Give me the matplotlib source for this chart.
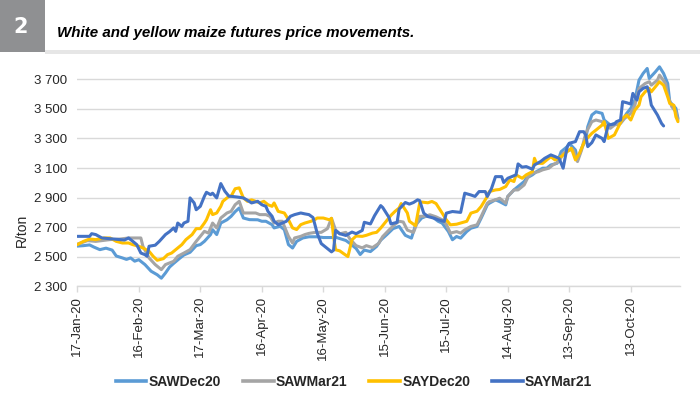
import matplotlib
matplotlib.use("Agg")
import matplotlib.pyplot as plt
import matplotlib.dates as mdates
from matplotlib.ticker import FuncFormatter
from matplotlib.patches import Rectangle
from matplotlib.lines import Line2D
import pandas as pd

plt.rcParams['font.family'] = ['Liberation Sans', 'DejaVu Sans']

# ---- data: (days after 17-Jan-2020, R/ton) ----
start_date = "2020-01-17"
saw_dec20 = [(0,2572),(3,2575),(6,2580),(8,2566),(11,2548),(14,2558),(17,2545),(19,2505),(22,2492),(24,2482),(26,2492),(28,2470),(30,2480),(33,2447),(36,2402),(39,2378),(41,2355),(43,2390),(45,2430),(47,2455),(50,2490),(52,2512),(55,2530),(58,2575),(60,2582),(62,2604),(65,2650),(66,2683),(68,2650),(70,2728),(73,2750),(75,2773),(77,2805),(79,2830),(81,2762),(84,2751),(88,2750),(90,2740),(92,2740),(95,2717),(96,2695),(99,2706),(101,2683),(103,2582),(105,2559),(107,2604),(110,2627),(113,2635),(117,2635),(120,2630),(124,2630),(126,2632),(131,2610),(133,2590),(136,2556),(138,2515),(140,2545),(143,2535),(146,2570),(148,2612),(151,2650),(154,2690),(157,2705),(160,2645),(163,2626),(165,2715),(168,2762),(170,2773),(173,2772),(176,2740),(178,2727),(181,2671),(183,2615),(185,2637),(187,2626),(190,2671),(192,2693),(195,2705),(197,2761),(200,2851),(201,2862),(204,2885),(206,2873),(209,2851),(210,2908),(213,2952),(215,2975),(218,3009),(219,3031),(222,3054),(224,3076),(227,3099),(229,3099),(231,3121),(234,3132),(236,3211),(239,3245),(240,3267),(243,3222),(244,3155),(246,3234),(248,3290),(249,3380),(251,3459),(253,3481),(256,3470),(257,3425),(260,3391),(262,3402),(264,3391),(266,3425),(268,3470),(270,3504),(272,3560),(274,3695),(276,3740),(278,3774),(279,3706),(282,3751),(284,3785),(286,3740),(288,3672),(289,3549),(292,3504),(293,3436)]
saw_mar21 = [(0,2585),(5,2609),(9,2604),(16,2616),(21,2620),(25,2627),(29,2627),(31,2627),(32,2571),(35,2492),(38,2447),(41,2413),(43,2447),(47,2469),(49,2503),(52,2525),(55,2548),(58,2604),(60,2638),(62,2672),(64,2660),(66,2728),(68,2695),(70,2762),(73,2796),(75,2807),(77,2852),(79,2875),(81,2796),(84,2796),(87,2796),(89,2785),(92,2785),(94,2773),(96,2728),(98,2740),(100,2740),(103,2638),(105,2593),(106,2627),(109,2638),(111,2650),(113,2658),(116,2665),(119,2665),(122,2690),(124,2760),(126,2680),(128,2655),(131,2665),(133,2620),(136,2575),(139,2560),(141,2575),(144,2562),(147,2590),(149,2637),(152,2680),(155,2720),(157,2740),(159,2735),(161,2680),(164,2665),(167,2773),(170,2775),(172,2784),(175,2770),(178,2750),(180,2720),(182,2660),(185,2670),(187,2660),(189,2682),(192,2705),(195,2716),(197,2772),(200,2862),(201,2873),(204,2885),(206,2896),(209,2862),(210,2908),(213,2952),(215,2952),(218,2986),(220,3043),(222,3065),(225,3076),(227,3088),(230,3099),(232,3121),(235,3144),(237,3200),(240,3222),(242,3222),(244,3144),(246,3222),(248,3335),(251,3414),(253,3425),(256,3414),(257,3391),(260,3369),(262,3391),(265,3402),(267,3436),(270,3470),(272,3526),(274,3639),(277,3672),(279,3684),(280,3661),(283,3695),(284,3729),(287,3672),(288,3594),(290,3515),(292,3481),(293,3425)]
say_dec20 = [(0,2582),(3,2604),(6,2620),(9,2616),(13,2627),(16,2627),(19,2604),(22,2593),(25,2593),(27,2582),(30,2571),(32,2559),(35,2537),(37,2503),(39,2476),(42,2487),(44,2514),(46,2525),(48,2548),(51,2582),(53,2616),(56,2650),(58,2690),(60,2690),(62,2728),(63,2750),(65,2818),(66,2785),(68,2796),(70,2841),(71,2875),(74,2909),(75,2909),(77,2960),(79,2966),(81,2898),(83,2875),(85,2885),(87,2875),(89,2864),(91,2875),(93,2852),(95,2841),(96,2864),(98,2807),(101,2796),(103,2751),(105,2695),(107,2684),(109,2717),(111,2728),(114,2740),(116,2752),(117,2762),(120,2762),(123,2750),(124,2760),(125,2637),(126,2547),(128,2540),(130,2520),(132,2501),(134,2615),(136,2640),(139,2638),(141,2645),(144,2660),(146,2665),(148,2694),(151,2745),(153,2780),(155,2807),(157,2830),(158,2860),(161,2796),(162,2740),(165,2710),(167,2862),(168,2870),(171,2865),(173,2874),(175,2860),(178,2795),(180,2750),(182,2716),(185,2720),(187,2728),(190,2740),(192,2795),(195,2808),(197,2840),(200,2908),(201,2941),(204,2952),(206,2955),(209,2975),(211,3020),(213,3009),(214,3054),(217,3031),(219,3054),(222,3076),(223,3166),(224,3132),(227,3132),(229,3155),(231,3177),(233,3155),(236,3177),(239,3211),(241,3234),(243,3155),(245,3200),(247,3267),(248,3290),(251,3335),(253,3357),(256,3391),(257,3414),(259,3301),(262,3324),(264,3380),(266,3436),(268,3459),(270,3425),(272,3492),(274,3526),(275,3582),(277,3616),(279,3639),(280,3616),(282,3650),(284,3684),(286,3660),(288,3582),(289,3537),(291,3525),(292,3447),(293,3414)]
say_mar21 = [(0,2638),(6,2638),(7,2656),(9,2650),(12,2627),(16,2622),(21,2616),(23,2613),(25,2627),(27,2605),(29,2582),(31,2525),(33,2514),(34,2503),(35,2571),(38,2578),(40,2604),(43,2650),(45,2670),(47,2695),(48,2672),(49,2728),(51,2705),(52,2728),(54,2740),(55,2898),(57,2864),(58,2818),(60,2841),(62,2909),(63,2936),(65,2920),(66,2930),(68,2898),(70,2995),(72,2943),(74,2909),(75,2909),(78,2904),(81,2898),(83,2882),(85,2864),(88,2875),(90,2852),(92,2841),(93,2807),(95,2774),(96,2740),(98,2717),(100,2728),(102,2740),(104,2774),(106,2785),(109,2796),(111,2790),(113,2785),(115,2765),(117,2660),(119,2589),(122,2555),(124,2533),(125,2544),(126,2678),(128,2656),(131,2644),(134,2667),(136,2656),(139,2678),(140,2733),(143,2722),(145,2778),(148,2846),(149,2833),(152,2767),(153,2722),(156,2733),(157,2822),(160,2867),(162,2856),(164,2867),(166,2885),(167,2880),(169,2795),(171,2772),(174,2761),(176,2750),(179,2739),(180,2795),(183,2806),(187,2800),(189,2930),(192,2918),(194,2908),(196,2941),(199,2941),(200,2908),(202,2960),(204,3042),(207,3042),(208,3002),(210,3031),(214,3054),(215,3128),(217,3106),(219,3110),(222,3092),(223,3121),(226,3144),(228,3166),(231,3189),(233,3178),(235,3166),(237,3099),(239,3245),(240,3268),(243,3279),(245,3346),(247,3346),(248,3324),(249,3245),(251,3272),(253,3324),(256,3301),(257,3279),(259,3391),(262,3398),(263,3414),(265,3425),(266,3549),(268,3542),(270,3533),(271,3605),(273,3560),(274,3616),(276,3639),(278,3650),(279,3605),(280,3526),(283,3459),(285,3402),(286,3385)]

series_names = ["SAWDec20", "SAWMar21", "SAYDec20", "SAYMar21"]
series_data = [saw_dec20, saw_mar21, say_dec20, say_mar21]
series_colors = ["#5B9BD5", "#A5A5A5", "#FFC000", "#4472C4"]

tick_dates = ["2020-01-17", "2020-02-16", "2020-03-17", "2020-04-16", "2020-05-16",
              "2020-06-15", "2020-07-15", "2020-08-14", "2020-09-13", "2020-10-13"]
y_ticks = [2300, 2500, 2700, 2900, 3100, 3300, 3500, 3700]
y_limits = (2300, 3800)
x_end_days = 294

title_text = "White and yellow maize futures price movements."
figure_number = "2"
y_label = "R/ton"

# ---- figure ----
W, H = 700, 399
fig = plt.figure(figsize=(W / 100, H / 100), dpi=100)
fig.patch.set_facecolor("white")

# header
fig.patches.append(Rectangle((0, 1 - 52 / H), 45 / W, 52 / H, transform=fig.transFigure,
                             facecolor="#8F9092", edgecolor="none", zorder=1))
fig.patches.append(Rectangle((45 / W, 1 - 54 / H), 1 - 45 / W, 4 / H, transform=fig.transFigure,
                             facecolor="#E6E6E6", edgecolor="none", zorder=1))
fig.text(21 / W, 1 - 27 / H, figure_number, color="white", fontsize=15, fontweight="bold",
         family=["DejaVu Sans"], ha="center", va="center")
fig.text(57 / W, 1 - 33 / H, title_text, color="black", fontsize=10.9, fontweight="bold",
         fontstyle="italic", family=["Liberation Sans Narrow", "Liberation Sans"],
         ha="left", va="center")

left, right, bottom, top = 77.3, 680, 286.3, 64.6
ax = fig.add_axes([left / W, 1 - bottom / H, (right - left) / W, (bottom - top) / H])

base = pd.Timestamp(start_date)
handles = []
for name, data, col in zip(series_names, series_data, series_colors):
    d = [p[0] for p in data]
    v = [p[1] for p in data]
    dates = base + pd.to_timedelta(d, unit="D")
    ax.plot(dates, v, color=col, lw=2.2, solid_joinstyle="round", solid_capstyle="round")
    handles.append(Line2D([0], [0], color=col, lw=2.6))

ax.set_ylim(*y_limits)
ax.set_xlim(base, base + pd.Timedelta(days=x_end_days))
ax.set_yticks(y_ticks)
ax.yaxis.set_major_formatter(FuncFormatter(lambda v, p: f"{int(v):,}".replace(",", " ")))
ax.set_xticks(pd.to_datetime(tick_dates))
ax.xaxis.set_major_formatter(mdates.DateFormatter("%d-%b-%y"))
for lab in ax.get_xticklabels():
    lab.set_rotation(90)
    lab.set_ha("center")
    lab.set_va("top")

for s in ["left", "right", "top"]:
    ax.spines[s].set_visible(False)
ax.spines["bottom"].set_color("#D9D9D9")
ax.spines["bottom"].set_linewidth(1.0)
ax.grid(axis="y", color="#D9D9D9", lw=1.0)
ax.set_axisbelow(True)
ax.tick_params(axis="y", length=0, pad=7, labelsize=9.5, labelcolor="#262626")
ax.tick_params(axis="x", length=4, width=1.0, color="#D9D9D9", pad=3, labelsize=9.5,
               labelcolor="#262626")

fig.text(22 / W, 1 - 230 / H, y_label, rotation=90, ha="center", va="center",
         fontsize=10, color="#262626")

fig.legend(handles, series_names, loc="center", bbox_to_anchor=(354 / W, 1 - 382 / H),
           ncol=4, frameon=False, handlelength=2.2, handletextpad=0.15,
           columnspacing=1.6, prop={"size": 10, "weight": "bold"}, labelcolor="#262626")

fig.savefig("out.png", dpi=100, facecolor="white")
